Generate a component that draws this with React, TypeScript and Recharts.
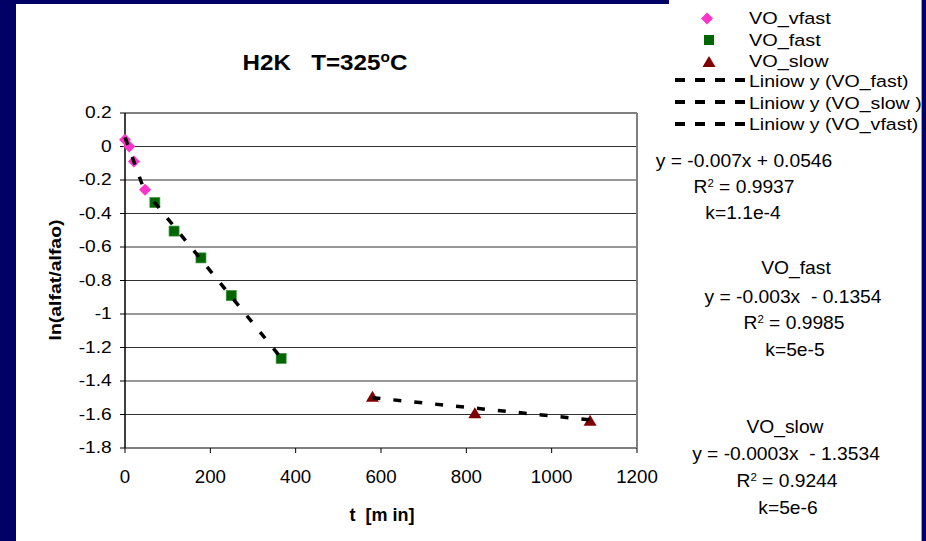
import React from "react";
import {
  ScatterChart,
  Scatter,
  XAxis,
  YAxis,
  CartesianGrid,
  ReferenceLine,
} from "recharts";

const FONT = '"Liberation Sans", Arial, sans-serif';

// measured points, t [min] vs ln(alfat/alfao)
const vfast = [
  { t: 0, v: 0.04 },
  { t: 10, v: 0.0 },
  { t: 21, v: -0.09 },
  { t: 47, v: -0.258 },
];
const fast = [
  { t: 70, v: -0.335 },
  { t: 115, v: -0.505 },
  { t: 178, v: -0.665 },
  { t: 249, v: -0.89 },
  { t: 366, v: -1.265 },
];
const slow = [
  { t: 580, v: -1.494 },
  { t: 820, v: -1.593 },
  { t: 1090, v: -1.637 },
];

// linear trend ends, as drawn
const vfastTrend = [
  { t: 0, v: 0.055 },
  { t: 47, v: -0.274 },
];
const fastTrend = [
  { t: 68, v: -0.33 },
  { t: 366, v: -1.262 },
];
const slowTrend = [
  { t: 580, v: -1.5 },
  { t: 1090, v: -1.632 },
];

const xTicks = [0, 200, 400, 600, 800, 1000, 1200];
const yTicks = [0.2, 0, -0.2, -0.4, -0.6, -0.8, -1, -1.2, -1.4, -1.6, -1.8];

const legendItems = ["VO_vfast", "VO_fast", "VO_slow"];
const legendTrends = [
  "Liniow y (VO_fast)",
  "Liniow y (VO_slow )",
  "Liniow y (VO_vfast)",
];

const Diamond = (p: any) => (
  <polygon
    points={`${p.cx},${p.cy - 6} ${p.cx + 6},${p.cy} ${p.cx},${p.cy + 6} ${p.cx - 6},${p.cy}`}
    fill="#ff33cc"
  />
);
const Square = (p: any) => (
  <rect
    x={p.cx - 5}
    y={p.cy - 5}
    width={10}
    height={10}
    fill="#006600"
    stroke="#3d8f3d"
    strokeWidth={0.7}
  />
);
const Triangle = (p: any) => (
  <polygon
    points={`${p.cx},${p.cy - 6} ${p.cx + 6.5},${p.cy + 5} ${p.cx - 6.5},${p.cy + 5}`}
    fill="#800000"
  />
);
const NoDot = () => <g />;

const YTick = (p: any) => (
  <text
    transform={`translate(${p.x - 6.3},${p.y + 5.3}) scale(1.2,1)`}
    textAnchor="end"
    fontSize={16}
    fontFamily={FONT}
    fill="#000"
  >
    {String(p.payload.value)}
  </text>
);

const XTick = (p: any) => (
  <text
    transform={`translate(${p.x},${p.y + 27.7}) scale(1.07,1)`}
    textAnchor="middle"
    fontSize={17.5}
    fontFamily={FONT}
    fill="#000"
  >
    {String(p.payload.value)}
  </text>
);

function Txt({ x, y, size, sx = 1, bold = false, left = false, children }: any) {
  const tr = left
    ? `translate(0,-50%) scaleX(${sx})`
    : `translate(-50%,-50%) scaleX(${sx})`;
  return (
    <div
      style={{
        position: "absolute",
        left: x,
        top: y,
        transform: tr,
        transformOrigin: left ? "left center" : "center center",
        fontSize: size,
        fontWeight: bold ? "bold" : "normal",
        fontFamily: FONT,
        whiteSpace: "pre",
        lineHeight: 1,
        color: "#000",
      }}
    >
      {children}
    </div>
  );
}

const sup = (s: string, size: number, lift: number) => (
  <span style={{ fontSize: size, position: "relative", top: -lift }}>{s}</span>
);

const dashLine = { stroke: "#000", strokeWidth: 3.5, strokeDasharray: "8 13" };

export default function App() {
  return (
    <div
      style={{
        position: "absolute",
        left: 0,
        top: 0,
        width: 926,
        height: 541,
        background: "#000066",
        overflow: "hidden",
      }}
    >
      <div
        style={{
          position: "absolute",
          left: 16,
          top: 4,
          width: 905,
          height: 537,
          background: "#fff",
          borderRight: "1px solid #a0a0a0",
        }}
      />
      <div
        style={{
          position: "absolute",
          left: 669,
          top: 0,
          width: 252,
          height: 140,
          background: "#fff",
          borderRight: "1px solid #a0a0a0",
        }}
      />

      <div style={{ position: "absolute", left: 0, top: 0 }}>
        <ScatterChart
          width={926}
          height={541}
          margin={{ top: 113, right: 289, bottom: 63, left: 0 }}
        >
          <CartesianGrid horizontal vertical={false} stroke="#303030" />
          <XAxis
            type="number"
            dataKey="t"
            domain={[0, 1200]}
            ticks={xTicks}
            interval={0}
            height={30}
            tickSize={5}
            tickMargin={2}
            axisLine={{ stroke: "#808080", strokeWidth: 2 }}
            tickLine={{ stroke: "#000" }}
            tick={<XTick />}
          />
          <YAxis
            type="number"
            dataKey="v"
            domain={[-1.8, 0.2]}
            ticks={yTicks}
            interval={0}
            width={125}
            tickSize={5}
            tickMargin={2}
            axisLine={{ stroke: "#000", strokeWidth: 1.5 }}
            tickLine={{ stroke: "#000" }}
            tick={<YTick />}
          />
          <ReferenceLine y={0.2} stroke="#808080" strokeWidth={2} />
          <ReferenceLine x={1200} stroke="#808080" strokeWidth={2} />
          <Scatter data={vfast} shape={<Diamond />} isAnimationActive={false} />
          <Scatter data={fast} shape={<Square />} isAnimationActive={false} />
          <Scatter data={slow} shape={<Triangle />} isAnimationActive={false} />
          <Scatter
            data={vfastTrend}
            line={dashLine}
            shape={<NoDot />}
            isAnimationActive={false}
          />
          <Scatter
            data={fastTrend}
            line={dashLine}
            shape={<NoDot />}
            isAnimationActive={false}
          />
          <Scatter
            data={slowTrend}
            line={dashLine}
            shape={<NoDot />}
            isAnimationActive={false}
          />
        </ScatterChart>
      </div>

      {/* title and axis titles */}
      <Txt x={325} y={63} size={22} sx={1.1} bold>
        H2K   T=325{sup("o", 14, 8)}C
      </Txt>
      <svg
        width={100}
        height={541}
        style={{ position: "absolute", left: 0, top: 0 }}
      >
        <text
          transform="translate(61,280) rotate(-90) scale(1.18,1)"
          textAnchor="middle"
          fontSize={16.5}
          fontWeight="bold"
          fontFamily={FONT}
          fill="#000"
        >
          ln(alfat/alfao)
        </text>
      </svg>
      <Txt x={382} y={515} size={18} bold>
        t  [m in]
      </Txt>

      {/* legend */}
      <svg
        width={80}
        height={140}
        style={{ position: "absolute", left: 669, top: 0 }}
      >
        <polygon points="38,12.5 44,18.5 38,24.5 32,18.5" fill="#ff33cc" />
        <rect x={35} y={35} width={10} height={10} fill="#006600" />
        <polygon points="40,56 46.5,67 33.5,67" fill="#800000" />
        {[80, 102, 124].map((y) => (
          <line
            key={y}
            x1={6}
            y1={y}
            x2={79}
            y2={y}
            stroke="#000"
            strokeWidth={4}
            strokeDasharray="10 10"
          />
        ))}
      </svg>
      {legendItems.map((s, i) => (
        <Txt key={s} x={749} y={18 + i * 21.5} size={16.3} sx={1.22} left>
          {s}
        </Txt>
      ))}
      {legendTrends.map((s, i) => (
        <Txt key={s} x={749} y={81 + i * 21.5} size={16.3} sx={1.2} left>
          {s}
        </Txt>
      ))}

      {/* fit annotations */}
      <Txt x={743.5} y={161} size={18.5} sx={1.04}>
        y = -0.007x + 0.0546
      </Txt>
      <Txt x={743.5} y={187} size={18.5} sx={1.04}>
        R{sup("2", 11, 6)} = 0.9937
      </Txt>
      <Txt x={743} y={213} size={18.5} sx={1.04}>
        k=1.1e-4
      </Txt>

      <Txt x={796} y={268} size={18.5} sx={1.04}>
        VO_fast
      </Txt>
      <Txt x={793} y={297} size={18.5} sx={1.04}>
        y = -0.003x  - 0.1354
      </Txt>
      <Txt x={793.5} y={323} size={18.5} sx={1.04}>
        R{sup("2", 11, 6)} = 0.9985
      </Txt>
      <Txt x={794.5} y={350} size={18.5} sx={1.04}>
        k=5e-5
      </Txt>

      <Txt x={785} y={427} size={18.5} sx={1.04}>
        VO_slow
      </Txt>
      <Txt x={786} y={454} size={18.5} sx={1.04}>
        y = -0.0003x  - 1.3534
      </Txt>
      <Txt x={786.5} y={481} size={18.5} sx={1.04}>
        R{sup("2", 11, 6)} = 0.9244
      </Txt>
      <Txt x={787.5} y={508} size={18.5} sx={1.04}>
        k=5e-6
      </Txt>
    </div>
  );
}
